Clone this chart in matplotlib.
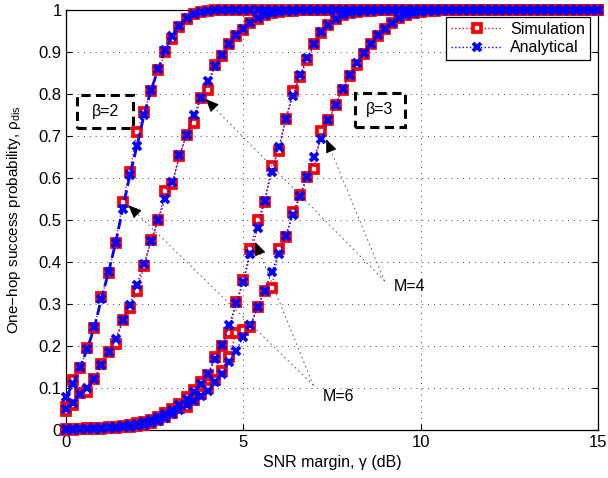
import numpy as np
import matplotlib
matplotlib.use('Agg')
import matplotlib.pyplot as plt
from matplotlib.patches import Rectangle

plt.rcParams['font.family'] = ['Liberation Sans', 'DejaVu Sans']
plt.rcParams['mathtext.fontset'] = 'custom'
plt.rcParams['mathtext.rm'] = 'Liberation Sans'
plt.rcParams['mathtext.it'] = 'Liberation Sans:italic'

# SNR margin grid (dB), 0.2 dB steps
snr_db = np.round(np.arange(0, 15.01, 0.2), 1)

# values read off the picture until each curve sits at 1
# beta=2, M=6 (leftmost)
ana_b2_m6 = [0.078, 0.110, 0.150, 0.193, 0.245, 0.313, 0.376, 0.446, 0.527, 0.606, 0.676,
             0.750, 0.810, 0.859, 0.905, 0.938, 0.963, 0.980, 0.990, 0.995, 0.998]
sim_b2_m6 = [0.054, 0.119, 0.147, 0.195, 0.243, 0.317, 0.373, 0.446, 0.543, 0.614, 0.710,
             0.758, 0.808, 0.857, 0.900, 0.930, 0.960, 0.978, 0.990, 0.996, 0.998]
# beta=2, M=4
ana_b2_m4 = [0.050, 0.065, 0.085, 0.100, 0.122, 0.154, 0.185, 0.217, 0.261, 0.298, 0.346,
             0.396, 0.449, 0.500, 0.551, 0.590, 0.654, 0.703, 0.749, 0.790, 0.830,
             0.866, 0.892, 0.920, 0.940, 0.955, 0.970, 0.980, 0.987, 0.992, 0.995,
             0.997, 0.998]
sim_b2_m4 = [0.045, 0.060, 0.088, 0.090, 0.122, 0.158, 0.185, 0.205, 0.262, 0.290, 0.330,
             0.390, 0.453, 0.500, 0.570, 0.586, 0.652, 0.703, 0.730, 0.790, 0.809,
             0.870, 0.890, 0.918, 0.937, 0.952, 0.968, 0.979, 0.987, 0.992, 0.995,
             0.997, 0.998]
# beta=3, M=6
ana_b3_m6 = [0.002, 0.002, 0.003, 0.003, 0.004, 0.005, 0.006, 0.008, 0.010, 0.012, 0.015,
             0.019, 0.024, 0.030, 0.038, 0.047, 0.060, 0.075, 0.090, 0.110, 0.134,
             0.168, 0.203, 0.249, 0.302, 0.352, 0.420, 0.480, 0.545, 0.614, 0.673,
             0.741, 0.796, 0.845, 0.885, 0.920, 0.947, 0.965, 0.978, 0.987, 0.992,
             0.995, 0.997, 0.998]
sim_b3_m6 = [0.003, 0.003, 0.003, 0.004, 0.004, 0.005, 0.007, 0.008, 0.010, 0.013, 0.016,
             0.020, 0.025, 0.031, 0.040, 0.050, 0.062, 0.078, 0.096, 0.114, 0.130,
             0.175, 0.200, 0.230, 0.305, 0.356, 0.431, 0.499, 0.543, 0.628, 0.664,
             0.741, 0.806, 0.840, 0.882, 0.918, 0.945, 0.965, 0.978, 0.987, 0.992,
             0.995, 0.997, 0.998]
# beta=3, M=4
ana_b3_m4 = [0.001, 0.001, 0.002, 0.002, 0.003, 0.003, 0.004, 0.005, 0.006, 0.008, 0.010,
             0.013, 0.017, 0.022, 0.029, 0.038, 0.048, 0.060, 0.068, 0.080, 0.094,
             0.114, 0.134, 0.161, 0.189, 0.222, 0.249, 0.293, 0.332, 0.376, 0.420,
             0.463, 0.511, 0.556, 0.603, 0.651, 0.694, 0.737, 0.773, 0.813, 0.845,
             0.873, 0.898, 0.920, 0.940, 0.955, 0.970, 0.981, 0.988, 0.992, 0.995,
             0.997, 0.998]
sim_b3_m4 = [0.001, 0.001, 0.002, 0.002, 0.003, 0.003, 0.004, 0.005, 0.006, 0.008, 0.010,
             0.013, 0.017, 0.023, 0.030, 0.040, 0.052, 0.054, 0.072, 0.085, 0.100,
             0.118, 0.140, 0.175, 0.232, 0.237, 0.245, 0.293, 0.330, 0.337, 0.430,
             0.460, 0.520, 0.560, 0.603, 0.622, 0.712, 0.737, 0.775, 0.810, 0.843,
             0.870, 0.896, 0.918, 0.938, 0.955, 0.968, 0.980, 0.988, 0.992, 0.995,
             0.997, 0.998]

legend_labels = ['Simulation', 'Analytical']


def full(vals):
    # curve stays at 1 after the listed points
    return np.array(vals + [1.0] * (len(snr_db) - len(vals)))


fig = plt.figure(figsize=(6.08, 4.78), dpi=100)
ax = fig.add_axes([66/608, 48/478, 532/608, 420/478])

sims = [sim_b2_m6, sim_b2_m4, sim_b3_m6, sim_b3_m4]
anas = [ana_b2_m6, ana_b2_m4, ana_b3_m6, ana_b3_m4]
sim_lines, ana_lines = [], []
for s in sims:
    l, = ax.plot(snr_db, full(s), color='r', ls=':', lw=1, marker='s', ms=5.3, mew=2.7,
                 mfc='white', mec='r', clip_on=False, zorder=3)
    sim_lines.append(l)
for i, a in enumerate(anas):
    if i == 0:
        ls, lw = '--', 2.0
    else:
        ls, lw = ':', 1.0
    l, = ax.plot(snr_db, full(a), color='b', ls=ls, lw=lw, marker='x', ms=6.3, mew=2.7,
                 clip_on=False, zorder=4)
    ana_lines.append(l)

ax.set_xlim(0, 15)
ax.set_ylim(0, 1)
ax.set_xticks([0, 5, 10, 15])
ax.set_yticks(np.round(np.arange(0, 1.01, 0.1), 1))
ax.set_yticklabels(['0', '0.1', '0.2', '0.3', '0.4', '0.5', '0.6', '0.7', '0.8', '0.9', '1'])
ax.tick_params(direction='in', top=True, right=True, length=4, width=0.8, labelsize=12)
ax.tick_params(axis='y', pad=3)
ax.grid(True, color='k', ls=(0, (1, 6)), lw=0.6)
for sp in ax.spines.values():
    sp.set_linewidth(0.9)

ax.set_xlabel('SNR margin, γ (dB)', fontsize=11.5)
ax.set_ylabel('One\u2212hop success probability, ρ$_{\\mathrm{dis}}$', fontsize=11)
ax.yaxis.set_label_coords(-0.08, 0.5)

leg = ax.legend([sim_lines[1], ana_lines[1]], legend_labels, loc='upper right',
                bbox_to_anchor=(0.985, 0.983), borderaxespad=0, fancybox=False,
                edgecolor='k', framealpha=1, fontsize=11.5, handlelength=3.2,
                borderpad=0.3, labelspacing=0.2, handletextpad=0.5)
leg.get_frame().set_linewidth(0.9)

# dashed boxes with beta labels
ax.add_patch(Rectangle((0.31, 0.719), 1.58, 0.079, fill=False, ec='k', lw=2.2,
                       ls=(0, (3, 1.8)), zorder=5))
ax.text(1.1, 0.758, 'β=2', ha='center', va='center', fontsize=11.5, zorder=6)
ax.add_patch(Rectangle((8.14, 0.721), 1.41, 0.081, fill=False, ec='k', lw=2.2,
                       ls=(0, (3, 1.8)), zorder=5))
ax.text(8.85, 0.762, 'β=3', ha='center', va='center', fontsize=11.5, zorder=6)

# M annotations: dotted leader line plus solid arrow head at the curve
line_style = dict(arrowstyle='-', ls=(0, (1, 4)), lw=0.7, color='0.35',
                  shrinkA=0, shrinkB=0)
head_style = dict(arrowstyle='-|>,head_length=0.7,head_width=0.3', lw=0.5, color='k',
                  shrinkA=0, shrinkB=0, mutation_scale=12)


def pointer(tip, start):
    ax.annotate('', xy=tip, xytext=start, arrowprops=line_style, zorder=6)
    back = (tip[0] + 0.05 * (start[0] - tip[0]), tip[1] + 0.05 * (start[1] - tip[1]))
    ax.annotate('', xy=tip, xytext=back, arrowprops=head_style, zorder=7)


ax.text(9.24, 0.341, 'M=4', ha='left', va='center', fontsize=11.5)
pointer((3.94, 0.788), (8.98, 0.355))
pointer((7.34, 0.692), (8.98, 0.355))
ax.text(7.23, 0.08, 'M=6', ha='left', va='center', fontsize=11.5)
pointer((1.76, 0.535), (6.97, 0.107))
pointer((5.34, 0.447), (6.97, 0.107))

plt.savefig('out.png', dpi=100)
plt.close()
